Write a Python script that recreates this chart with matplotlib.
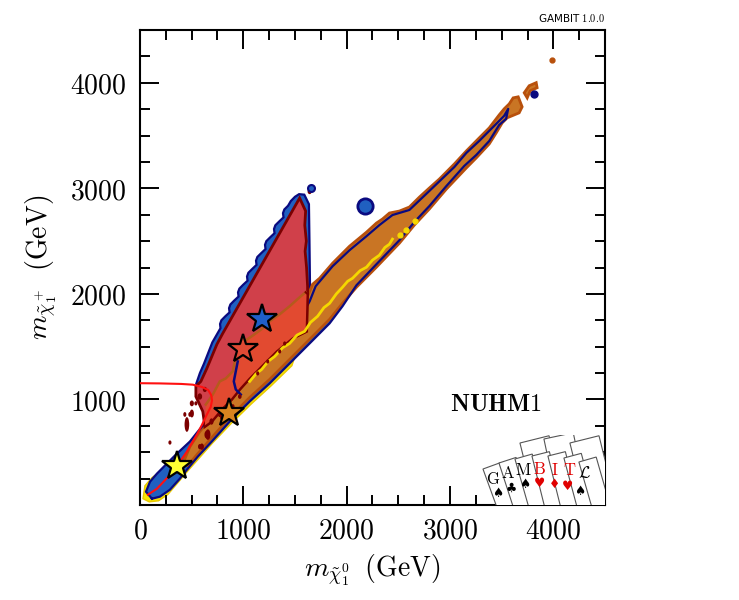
import numpy as np
import matplotlib.pyplot as plt
from matplotlib.patches import Ellipse, Rectangle

plt.rcParams['mathtext.fontset'] = 'cm'
plt.rcParams['font.family'] = ['DejaVu Sans']

# ---- values (GeV) ----
# orange band (outer contour)
band_x = [415, 483, 579, 676, 821, 1014, 1207, 1400, 1545, 1622, 1671, 1738, 1864, 2028, 2192, 2288, 2346, 2414, 2511, 2607,
          2704, 2800, 2897, 3042, 3158, 3283, 3380, 3476, 3524, 3573, 3611, 3660, 3698, 3669, 3553, 3505, 3447, 3380, 3254, 3158,
          2965, 2800, 2655, 2511, 2288, 2095, 1960, 1835, 1642, 1448, 1255, 1062, 869, 695, 560, 463]
band_y = [392, 553, 696, 810, 981, 1171, 1379, 1598, 1788, 1978, 2092, 2148, 2291, 2452, 2585, 2671, 2709, 2766, 2785, 2823,
          2917, 3003, 3088, 3231, 3354, 3478, 3573, 3696, 3753, 3800, 3857, 3867, 3772, 3715, 3668, 3620, 3525, 3421, 3288, 3193,
          2993, 2804, 2652, 2481, 2253, 2063, 1911, 1759, 1569, 1379, 1190, 1019, 829, 639, 487, 373]

# blue band
bband_x = [116, 58, 97, 164, 251, 348, 483, 560, 724, 966, 1255, 1545, 1642, 1700, 1864, 2028, 2192, 2317, 2443, 2607,
           2800, 3042, 3158, 3283, 3428, 3524, 3563, 3543, 3476, 3380, 3254, 3138, 2965, 2800, 2655, 2511, 2288, 2095, 1960, 1835,
           1642, 1448, 1255, 1062, 869, 695, 560, 463, 386, 290, 193]
bband_y = [60, 126, 221, 297, 383, 478, 601, 696, 886, 1123, 1436, 1759, 1930, 2073, 2262, 2414, 2547, 2652, 2747, 2795,
           2975, 3202, 3335, 3449, 3592, 3687, 3753, 3658, 3601, 3449, 3316, 3212, 3022, 2832, 2681, 2509, 2281, 2082, 1883, 1721,
           1531, 1341, 1152, 981, 791, 601, 459, 345, 250, 145, 79]

# blue triangle (scalloped left edge)
btri_x = [1590, 1540, 1500, 1460, 1433, 1397, 1384, 1389, 1346, 1310, 1297, 1302, 1259, 1223, 1210, 1215, 1172, 1136, 1123, 1128,
          1085, 1049, 1036, 1041, 997, 962, 949, 954, 910, 875, 862, 867, 823, 788, 775, 779, 700, 660, 620, 580,
          545, 600, 660, 900, 1400, 1630, 1645, 1640, 1635]
btri_y = [2940, 2945, 2920, 2880, 2835, 2800, 2765, 2725, 2685, 2650, 2615, 2575, 2535, 2500, 2465, 2425, 2385, 2350, 2315, 2275,
          2235, 2200, 2165, 2125, 2085, 2050, 2015, 1975, 1935, 1900, 1865, 1825, 1785, 1750, 1715, 1675, 1540, 1440, 1340, 1250,
          1150, 1050, 950, 1150, 1550, 1700, 2100, 2500, 2850]

# red triangle
red_x = [1545, 1603, 1595, 1610, 1598, 1612, 1622, 1622, 1613, 1477, 1323, 1159, 1062, 966, 888, 792, 695, 628, 608, 541,
         541, 589, 647, 744, 801]
red_y = [2908, 2785, 2650, 2500, 2405, 2250, 2073, 1997, 1645, 1579, 1455, 1294, 1199, 1095, 1000, 905, 791, 743, 886, 1028,
         1123, 1171, 1294, 1522, 1626]

# lower, orange-red part of the red region (first 14 points = brown contour)
ored_x = [1603, 1545, 1448, 1352, 1255, 1188, 1081, 966, 927, 898, 830, 772, 705, 637, 628, 695, 792, 888, 966, 1062,
          1159, 1323, 1477, 1613, 1622]
ored_y = [2016, 1968, 1883, 1807, 1740, 1674, 1598, 1522, 1408, 1266, 1199, 1171, 1047, 952, 743, 791, 905, 1000, 1095, 1199,
          1294, 1455, 1579, 1645, 1997]

# yellow region
yel_x = [29, 48, 116, 193, 579, 1545, 1600, 1470, 1270, 1080, 880, 700, 560, 460, 370, 270, 180, 90]
yel_y = [60, 183, 259, 316, 696, 1740, 1700, 1320, 1130, 960, 770, 585, 430, 320, 215, 100, 40, 30]

# yellow contour inside band
yline_x = [1062, 1120, 1178, 1240, 1304, 1380, 1448, 1520, 1593, 1650, 1719, 1780, 1835, 1900, 1960, 2010, 2057, 2130, 2192, 2250, 2317, 2370, 2414, 2443]
yline_y = [1171, 1240, 1285, 1360, 1408, 1490, 1531, 1610, 1645, 1730, 1788, 1870, 1911, 2000, 2063, 2120, 2148, 2220, 2253, 2320, 2367, 2440, 2471, 2519]
ydot_x = [2520, 2578, 2665]
ydot_y = [2558, 2605, 2690]

# navy contour inside red
navy_x = [946, 927, 908, 927, 975]
navy_y = [1360, 1266, 1171, 1095, 1047]

# dark red islands
blob_x = [502, 502, 454, 541, 290, 657, 599, 792, 1139, 1236, 1352, 1642,
          434, 483, 692, 644, 772, 579, 966, 898, 821, 579, 628, 1400]
blob_y = [963, 867, 763, 963, 592, 667, 553, 830, 1247, 1360, 1455, 2970,
          858, 858, 791, 667, 858, 553, 1028, 933, 838, 1028, 1095, 1530]
blob_w = [40, 40, 45, 30, 30, 50, 40, 35, 30, 30, 30, 40,
          30, 30, 40, 40, 35, 35, 35, 35, 35, 45, 40, 30]
blob_h = [55, 75, 140, 40, 40, 100, 60, 50, 40, 40, 40, 50,
          45, 45, 60, 70, 50, 50, 45, 45, 45, 60, 50, 40]

# small islands
isl_x = [3718, 3766, 3834, 3843, 3776, 3747]
isl_y = [3905, 3972, 4001, 3953, 3924, 3857]

# red line
rline_x = [0, 193, 400, 512, 600, 660, 690, 697, 685, 647, 600, 550, 454, 319, 164, 77]
rline_y = [1154, 1152, 1147, 1140, 1118, 1090, 1040, 990, 930, 857, 760, 667, 506, 316, 154, 98]

# best-fit stars
star_x = [357, 859, 995, 1178]
star_y = [365, 867, 1474, 1759]
star_c = ['#ffff33', '#d9841f', '#e04a34', '#1f5fc8']

xticks = [0, 1000, 2000, 3000, 4000]
yticks = [1000, 2000, 3000, 4000]

fig = plt.figure(figsize=(7.39, 6.0), dpi=100)
ax = fig.add_axes([0.1894, 0.1583, 0.6293, 0.7917])

navy = '#0a0a80'
dred = '#7b0000'

ax.fill(yel_x, yel_y, facecolor='#f8e600', edgecolor='#e8c800', lw=1, zorder=1)
ax.fill(bband_x, bband_y, facecolor='#2060c0', edgecolor='none', zorder=2)
ax.fill(btri_x, btri_y, facecolor='#2060c0', edgecolor=navy, lw=1.6, zorder=2)
ax.fill(band_x, band_y, facecolor='#c97524', edgecolor='#b8500c', lw=2, zorder=3)
ax.fill(isl_x, isl_y, facecolor='#c97524', edgecolor='#b8500c', lw=2, zorder=3)
ax.plot(bband_x + bband_x[:1], bband_y + bband_y[:1], color=navy, lw=1.6, zorder=4)
ax.fill(red_x, red_y, facecolor='#d0404a', edgecolor=dred, lw=2, zorder=5)
ax.fill(ored_x, ored_y, facecolor='#e24a30', edgecolor='none', zorder=6)
ax.plot(ored_x[:14], ored_y[:14], color='#b55a1c', lw=1.8, zorder=7)
ax.plot(ored_x[14:] + [ored_x[0]], ored_y[14:] + [ored_y[0]], color=dred, lw=1.5, zorder=7)
ax.plot(navy_x, navy_y, color=navy, lw=1.8, zorder=7)
ax.plot(yline_x, yline_y, color='#f5d800', lw=2, zorder=8)
ax.plot(ydot_x, ydot_y, 'o', color='#f5d800', ms=3.5, zorder=8)
for bx, by, bw, bh in zip(blob_x, blob_y, blob_w, blob_h):
    ax.add_patch(Ellipse((bx, by), bw, bh, facecolor=dred, edgecolor='none', zorder=8))

ax.plot([2173], [2832], 'o', ms=11, mfc='#2060c0', mec=navy, mew=2, zorder=8)
ax.plot([1651], [3001], 'o', ms=5, mfc='#2060c0', mec=navy, mew=1.5, zorder=8)
ax.plot([3814], [3896], 'o', ms=5, mfc=navy, mec=navy, zorder=8)
ax.plot([3988], [4218], 'o', ms=3.5, color='#b8500c', zorder=8)

ax.plot(rline_x, rline_y, color='#ff1010', lw=1.5, zorder=9)

for sx, sy, sc in zip(star_x, star_y, star_c):
    ax.plot(sx, sy, marker='*', ms=22, mfc=sc, mec='black', mew=1.6, zorder=10)

ax.text(3447, 961, r'$\mathbf{NUHM1}$', fontsize=17.5, ha='center', va='center', zorder=11)

ax.set_xlim(0, 4500)
ax.set_ylim(0, 4500)
ax.set_xticks(xticks)
ax.set_xticklabels([r'$%d$' % v for v in xticks])
ax.set_yticks(yticks)
ax.set_yticklabels([r'$%d$' % v for v in yticks])
ax.set_xticks(np.arange(0, 4501, 250), minor=True)
ax.set_yticks(np.arange(0, 4501, 250), minor=True)
ax.tick_params(which='both', direction='in', top=True, right=True, width=1.4, labelsize=20)
ax.tick_params(which='major', length=14)
ax.tick_params(which='minor', length=7)
ax.tick_params(axis='y', pad=10)
ax.tick_params(axis='x', pad=8)
for s in ax.spines.values():
    s.set_linewidth(1.5)
ax.set_xlabel(r'$m_{\tilde{\chi}^0_1}\;\;(\mathrm{GeV})$', fontsize=20, labelpad=6)
ax.set_ylabel(r'$m_{\tilde{\chi}^+_1}\;\;(\mathrm{GeV})$', fontsize=20, labelpad=8)

fig.text(0.818, 0.964, r'GAMBIT $1.0.0$', fontsize=7.5, ha='right', va='baseline')

# GAMBIT card logo
lax = fig.add_axes([0.6495, 0.1583, 0.169, 0.1167])
lax.set_xlim(0, 125)
lax.set_ylim(0, 70)
lax.axis('off')
back = [(40, 62, 14), (64, 66, 12), (90, 62, 14)]
front = [(3, 36, 20), (19, 42, 18), (35, 46, 16), (52, 49, 14), (68, 49, 14), (84, 47, 15), (99, 43, 16)]
letters = [r'$\mathrm{G}$', r'$\mathrm{A}$', r'$\mathrm{M}$', r'$\mathrm{B}$', r'$\mathrm{I}$', r'$\mathrm{T}$', r'$\mathcal{L}$']
suits = ['\u2660', '\u2663', '\u2660', '\u2665', '\u2666', '\u2665', '\u2660']
lcol = ['black', 'black', 'black', '#e00000', '#e00000', '#e00000', 'black']
let_pos = [(13, 26), (28, 32), (43, 35), (60, 36), (75, 35), (90, 35), (105, 32)]
suit_pos = [(18, 12), (31, 17), (45, 21), (60, 22), (75, 21), (88, 19), (100, 14)]
h = 60
for u, v, a in back + front:
    w = 30 if (u, v, a) in back else 18
    t = np.radians(a)
    bl = (u + h * np.sin(t), v - h * np.cos(t))
    lax.add_patch(Rectangle(bl, w, h, angle=a, facecolor='white', edgecolor='#555555', lw=0.8))
for (lx, ly), (sx, sy), l, s, c in zip(let_pos, suit_pos, letters, suits, lcol):
    lax.text(lx, ly, l, fontsize=12, color=c, ha='center', va='center')
    lax.text(sx, sy, s, fontsize=9, color=c, ha='center', va='center')

fig.savefig('out.png', dpi=100)
